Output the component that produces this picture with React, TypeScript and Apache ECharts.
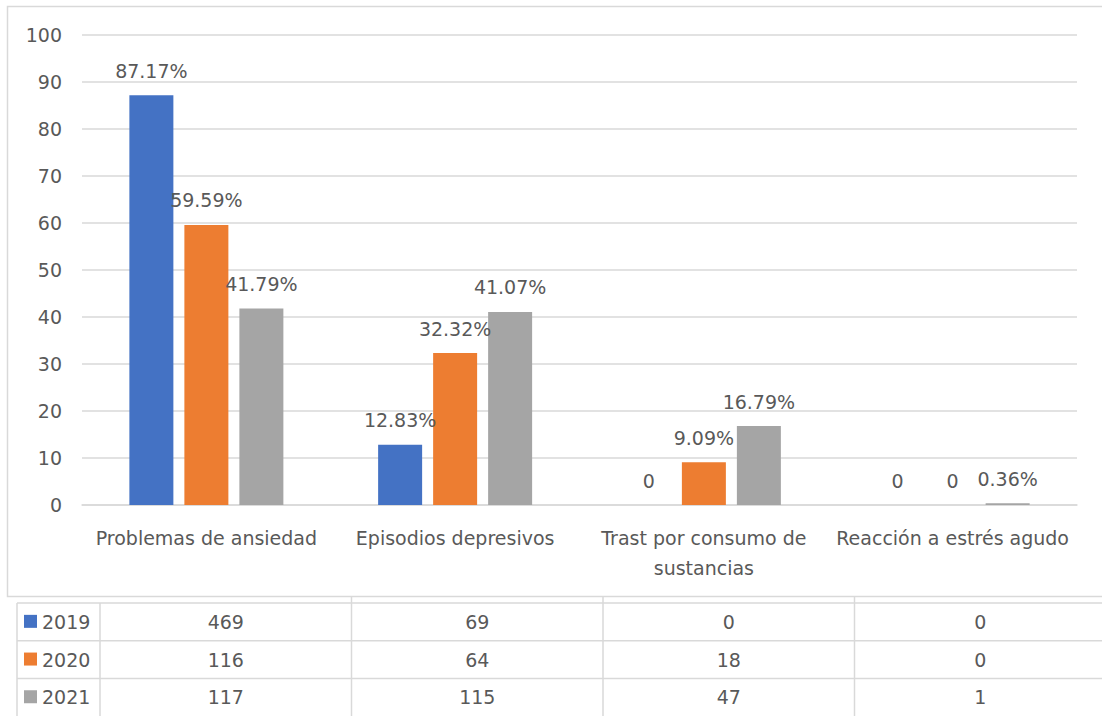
import React, { useEffect, useRef } from "react";
import * as echarts from "echarts";

const categories = [
  "Problemas de ansiedad",
  "Episodios depresivos",
  "Trast por consumo de\nsustancias",
  "Reacción a estrés agudo",
];
const years = ["2019", "2020", "2021"];
const pct2019 = [87.17, 12.83, 0, 0];
const pct2020 = [59.59, 32.32, 9.09, 0];
const pct2021 = [41.79, 41.07, 16.79, 0.36];
const count2019 = [469, 69, 0, 0];
const count2020 = [116, 64, 18, 0];
const count2021 = [117, 115, 47, 1];
const colors = ["#4472C4", "#ED7D31", "#A5A5A5"];

const FONT = "DejaVu Sans";
const TEXT = "#595959";
const LINE = "#d9d9d9";

export default function App() {
  const ref = useRef<HTMLDivElement>(null);
  useEffect(() => {
    document.body.style.margin = "0";
    if (!ref.current) return;
    const chart = echarts.init(ref.current, null, { renderer: "svg" });
    const pcts = [pct2019, pct2020, pct2021];
    const counts = [count2019, count2020, count2021];

    // table layout
    const tTop = 603;
    const rowH = 37.7;
    const tLeft = 17;
    const legendRight = 100;
    const colW = 251.5;
    const graphic: any[] = [];
    graphic.push({
      type: "rect",
      shape: { x: 7.5, y: 6.5, width: 1120, height: 590 },
      style: { fill: "none", stroke: LINE, lineWidth: 1.5 },
      silent: true,
    });
    for (let r = 0; r < 3; r++) {
      const y = tTop + r * rowH;
      graphic.push({
        type: "line",
        shape: { x1: tLeft, y1: y, x2: 1102, y2: y },
        style: { stroke: LINE, lineWidth: 1.5 },
      });
    }
    graphic.push({
      type: "line",
      shape: { x1: tLeft, y1: tTop, x2: tLeft, y2: 716 },
      style: { stroke: LINE, lineWidth: 1.5 },
    });
    graphic.push({
      type: "line",
      shape: { x1: legendRight, y1: tTop, x2: legendRight, y2: 716 },
      style: { stroke: LINE, lineWidth: 1.5 },
    });
    for (let c = 1; c < categories.length; c++) {
      const x = legendRight + c * colW;
      graphic.push({
        type: "line",
        shape: { x1: x, y1: 597, x2: x, y2: 716 },
        style: { stroke: LINE, lineWidth: 1.5 },
      });
    }
    years.forEach((yr, r) => {
      const cy = tTop + r * rowH + rowH / 2;
      graphic.push({
        type: "rect",
        shape: { x: 24, y: cy - 7, width: 13, height: 13 },
        style: { fill: colors[r] },
      });
      graphic.push({
        type: "text",
        x: 42,
        y: cy,
        style: {
          text: yr,
          font: `19px "${FONT}"`,
          fill: TEXT,
          verticalAlign: "middle",
          align: "left",
        },
      });
      counts[r].forEach((v, c) => {
        graphic.push({
          type: "text",
          x: legendRight + c * colW + colW / 2,
          y: cy,
          style: {
            text: String(v),
            font: `19px "${FONT}"`,
            fill: TEXT,
            verticalAlign: "middle",
            align: "center",
          },
        });
      });
    });

    chart.setOption({
      animation: false,
      textStyle: { fontFamily: FONT },
      grid: { left: 82, right: 25, top: 35, bottom: 211, containLabel: false },
      xAxis: {
        type: "category",
        data: categories,
        axisLine: { show: true, lineStyle: { color: LINE, width: 1.5 } },
        axisTick: { show: false },
        axisLabel: {
          color: TEXT,
          fontSize: 19,
          fontFamily: FONT,
          margin: 18,
          lineHeight: 30,
          interval: 0,
        },
      },
      yAxis: {
        type: "value",
        min: 0,
        max: 100,
        interval: 10,
        axisLine: { show: false },
        axisTick: { show: false },
        axisLabel: { color: TEXT, fontSize: 19, fontFamily: FONT, margin: 20 },
        splitLine: { lineStyle: { color: LINE, width: 1.5 } },
      },
      series: years.map((yr, i) => ({
        name: yr,
        type: "bar",
        data: pcts[i],
        barWidth: 44,
        barGap: "25%",
        itemStyle: { color: colors[i] },
        label: {
          show: true,
          position: "top",
          distance: 15,
          color: TEXT,
          fontSize: 19,
          fontFamily: FONT,
          formatter: (p: any) => (p.value === 0 ? "0" : p.value.toFixed(2) + "%"),
        },
      })),
      graphic,
    });
    return () => chart.dispose();
  }, []);
  return <div ref={ref} style={{ width: 1102, height: 716 }} />;
}
